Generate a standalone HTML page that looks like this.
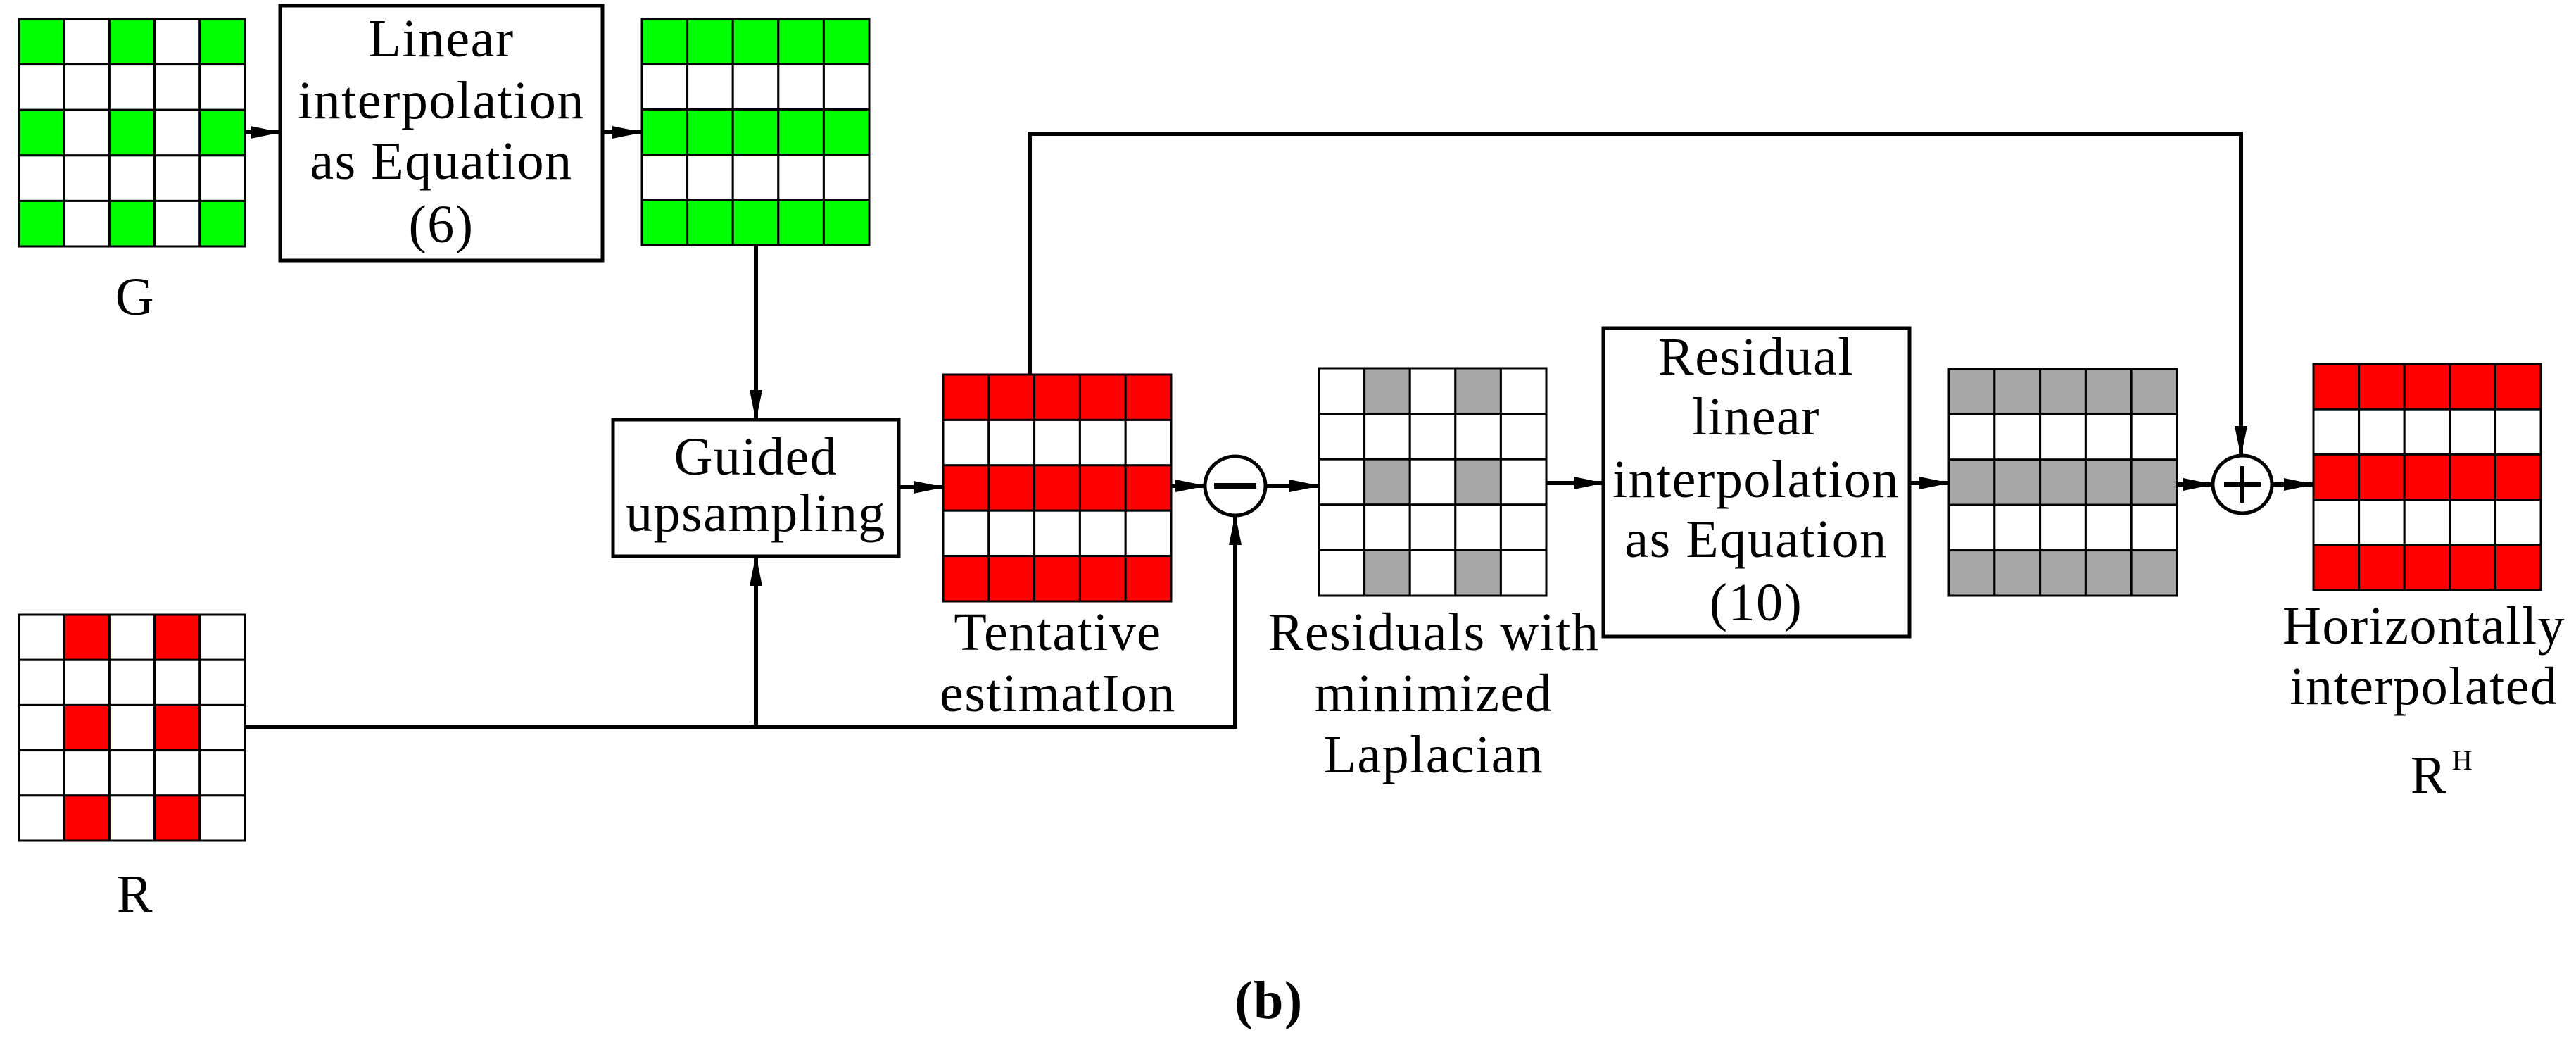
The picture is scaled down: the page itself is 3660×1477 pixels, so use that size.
<!DOCTYPE html>
<html><head><meta charset="utf-8"><style>
html,body{margin:0;padding:0;background:#fff;}
svg{display:block;}
text{font-family:"Liberation Serif","DejaVu Serif",serif;font-size:76px;fill:#000;text-anchor:middle;letter-spacing:1.5px;}
</style></head><body>
<svg id="s" width="3660" height="1477" viewBox="0 0 3660 1477" xmlns="http://www.w3.org/2000/svg">
<defs>
<marker id="a" markerWidth="44" markerHeight="24" refX="42" refY="12" orient="auto" markerUnits="userSpaceOnUse">
<path d="M0,3 L44,12 L0,21 Z" fill="#000"/></marker>
</defs>
<g id="grids"></g>
<g fill="none" stroke="#000" stroke-width="6">
<rect x="398" y="8" width="458" height="362" stroke-width="5"/>
<rect x="871" y="596" width="406" height="194" stroke-width="5"/>
<rect x="2278" y="466" width="435" height="438" stroke-width="5"/>
<ellipse cx="1755" cy="690" rx="43" ry="42" stroke-width="5"/>
<ellipse cx="3186" cy="688" rx="42" ry="41" stroke-width="5"/>
<line x1="1725" y1="690" x2="1785" y2="690" stroke-width="8"/>
<line x1="3160" y1="688" x2="3212" y2="688" stroke-width="6"/>
<line x1="3186" y1="662" x2="3186" y2="714" stroke-width="6"/>
<line x1="348" y1="188" x2="398" y2="188" marker-end="url(#a)"/>
<line x1="856" y1="188" x2="912" y2="188" marker-end="url(#a)"/>
<line x1="1074" y1="348" x2="1074" y2="596" marker-end="url(#a)"/>
<polyline points="348,1032 1755,1032 1755,732" marker-end="url(#a)"/>
<line x1="1074" y1="1032" x2="1074" y2="790" marker-end="url(#a)"/>
<line x1="1277" y1="692" x2="1340" y2="692" marker-end="url(#a)"/>
<line x1="1664" y1="690" x2="1712" y2="690" marker-end="url(#a)"/>
<line x1="1798" y1="690" x2="1874" y2="690" marker-end="url(#a)"/>
<line x1="2197" y1="686" x2="2278" y2="686" marker-end="url(#a)"/>
<line x1="2713" y1="686" x2="2769" y2="686" marker-end="url(#a)"/>
<line x1="3093" y1="688" x2="3144" y2="688" marker-end="url(#a)"/>
<line x1="3228" y1="688" x2="3287" y2="688" marker-end="url(#a)"/>
<polyline points="1463,532 1463,190 3184,190 3184,647" marker-end="url(#a)"/>
</g>
<text x="627" y="80">Linear</text>
<text x="627" y="168">interpolation</text>
<text x="627" y="254">as Equation</text>
<text x="627" y="344">(6)</text>
<text x="192" y="447">G</text>
<text x="192" y="1295">R</text>
<text x="1074" y="674">Guided</text>
<text x="1074" y="754">upsampling</text>
<text x="1503" y="923">Tentative</text>
<text x="1503" y="1010">estimatIon</text>
<text x="2037" y="923">Residuals with</text>
<text x="2037" y="1010">minimized</text>
<text x="2037" y="1097">Laplacian</text>
<text x="2495" y="532">Residual</text>
<text x="2495" y="617">linear</text>
<text x="2495" y="706">interpolation</text>
<text x="2495" y="791">as Equation</text>
<text x="2495" y="881">(10)</text>
<text x="3444" y="914">Horizontally</text>
<text x="3444" y="1000">interpolated</text>
<text x="3451" y="1126">R</text>
<text x="3499" y="1093" style="font-size:40px">H</text>
<text x="1803" y="1446" style="font-weight:bold">(b)</text>
</svg>
<script>
(function(){
var g=document.getElementById('grids'),NS='http://www.w3.org/2000/svg';
function grid(x0,y0,x1,y1,col,fn){
 var w=(x1-x0)/5,h=(y1-y0)/5;
 for(var r=0;r<5;r++)for(var c=0;c<5;c++){
  var e=document.createElementNS(NS,'rect');
  e.setAttribute('x',x0+c*w);e.setAttribute('y',y0+r*h);
  e.setAttribute('width',w);e.setAttribute('height',h);
  e.setAttribute('fill',fn(r,c)?col:'#fff');
  e.setAttribute('stroke','#000');e.setAttribute('stroke-width','3');
  g.appendChild(e);}
}
var G='#00ff00',R='#ff0000',Y='#a6a6a6';
function ev(n){return n%2==0;}
grid(27,27,348,350,G,function(r,c){return ev(r)&&ev(c);});
grid(912,27,1235,348,G,function(r){return ev(r);});
grid(27,873,348,1194,R,function(r,c){return ev(r)&&!ev(c);});
grid(1340,532,1664,854,R,function(r){return ev(r);});
grid(1874,523,2197,846,Y,function(r,c){return ev(r)&&!ev(c);});
grid(2769,524,3093,846,Y,function(r){return ev(r);});
grid(3287,517,3610,838,R,function(r){return ev(r);});
})();
</script>
</body></html>
